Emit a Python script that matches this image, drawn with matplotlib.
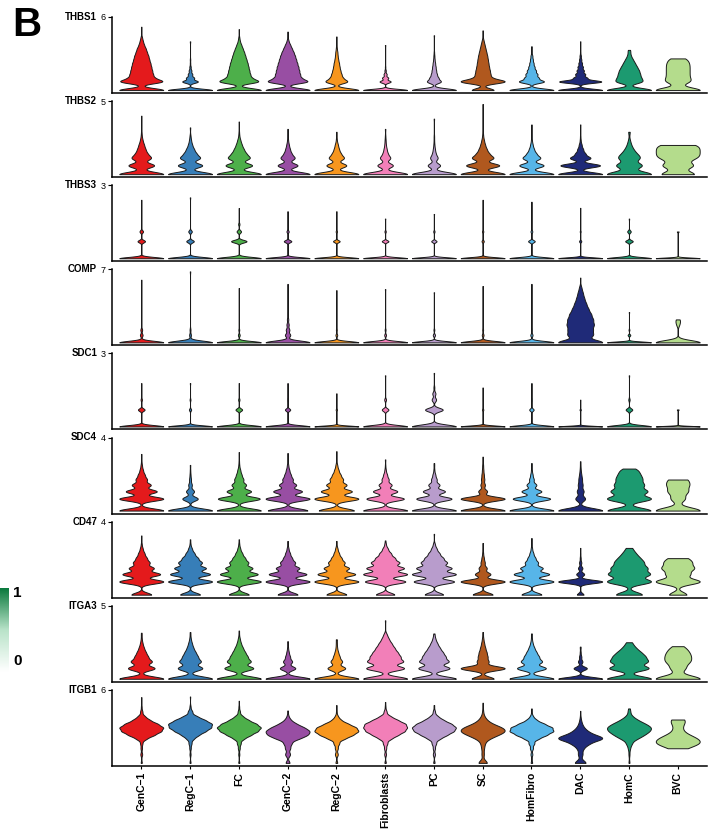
import numpy as np
import matplotlib
matplotlib.use("Agg")
import matplotlib.pyplot as plt
from matplotlib import cbook
from matplotlib.colors import LinearSegmentedColormap

plt.rcParams['font.family'] = ['Liberation Sans', 'DejaVu Sans']

# Data
cell_types = ["GenC\u22121", "RegC\u22121", "FC", "GenC\u22122", "RegC\u22122", "Fibroblasts",
              "PC", "SC", "HomFibro", "DAC", "HomC", "BVC"]
cell_colors = ["#E41A1C", "#377EB8", "#4DAF4A", "#984EA3", "#F7961E", "#F27FB8",
               "#B89CCC", "#B0581E", "#57B5E8", "#1F2A78", "#1C9A70", "#B4DC8C"]
genes = ["THBS1", "THBS2", "THBS3", "COMP", "SDC1", "SDC4", "CD47", "ITGA3", "ITGB1"]
y_max = [6, 5, 3, 7, 3, 4, 4, 5, 6]

# expression levels per gene, cells per level for each cell type, and the highest cell
thbs1_levels = [0, 0.7, 1.0, 1.3, 1.6, 1.9, 2.2, 2.5, 2.8, 3.1, 3.4, 3.7, 4.0, 4.3]
thbs1_counts = [[100, 87, 46, 41, 38, 35, 32, 28, 25, 20, 16, 10, 6, 3],
                [100, 35, 18, 10, 6, 3, 1, 1, 0, 0, 0, 0, 0, 0],
                [100, 80, 45, 40, 37, 34, 31, 27, 23, 19, 14, 9, 4, 2],
                [100, 82, 49, 45, 42, 39, 35, 31, 27, 22, 16, 10, 4, 1],
                [100, 46, 24, 19, 15, 12, 10, 7, 5, 4, 2, 1, 0, 0],
                [100, 25, 14, 7, 3, 1, 0, 0, 0, 0, 0, 0, 0, 0],
                [100, 30, 18, 12, 9, 7, 5, 3, 2, 1, 0, 0, 0, 0],
                [50, 95, 30, 27, 25, 22, 20, 18, 16, 13, 10, 7, 4, 1],
                [100, 55, 30, 25, 19, 13, 9, 6, 4, 1, 0, 0, 0, 0],
                [100, 95, 30, 22, 16, 12, 8, 5, 3, 1, 0, 0, 0, 0],
                [30, 15, 12, 11, 10, 8, 6, 4, 2, 1, 0, 0, 0, 0],
                [10, 4, 3, 3, 3, 3, 3, 2, 0, 0, 0, 0, 0, 0]]
thbs1_tops = [5.2, 4.0, 5.0, 4.8, 4.4, 3.7, 4.5, 4.9, 3.6, 4.0, 3.3, 2.6]

thbs2_levels = [0, 0.6, 1.1, 1.4, 1.7, 2.0, 2.3, 2.6, 2.9]
thbs2_counts = [[100, 58, 40, 22, 15, 10, 5, 2, 1],
                [100, 55, 42, 24, 15, 8, 4, 2, 0],
                [100, 60, 45, 27, 18, 11, 6, 2, 1],
                [100, 45, 30, 15, 9, 5, 2, 1, 0],
                [100, 45, 32, 17, 10, 6, 2, 1, 0],
                [100, 35, 22, 10, 6, 3, 2, 1, 0],
                [100, 28, 16, 7, 4, 2, 1, 1, 0],
                [100, 75, 45, 24, 15, 9, 5, 2, 1],
                [100, 55, 38, 19, 10, 5, 2, 1, 0],
                [100, 90, 45, 21, 12, 6, 2, 1, 0],
                [30, 17, 12, 7, 4, 2, 1, 0, 0],
                [10, 9, 8, 8, 8, 7, 0, 0, 0]]
thbs2_tops = [4.0, 3.2, 3.6, 3.1, 2.9, 3.1, 3.8, 4.8, 3.4, 3.4, 2.9, 2.0]

thbs3_levels = [0, 0.7, 1.1, 1.4]
thbs3_counts = [[100, 17, 8, 0],
                [100, 17, 8, 0],
                [100, 35, 10, 3],
                [100, 17, 5, 0],
                [100, 15, 3, 0],
                [100, 15, 3, 0],
                [100, 12, 3, 0],
                [100, 5, 3, 0],
                [100, 15, 4, 0],
                [100, 5, 2, 0],
                [100, 17, 8, 0],
                [100, 0, 3, 0]]
thbs3_tops = [2.4, 2.5, 2.06, 1.93, 1.93, 1.63, 1.82, 2.4, 2.32, 2.07, 1.63, 1.1]

comp_levels = [0, 0.7, 1.2, 1.7, 2.2, 2.7, 3.2, 3.7, 4.2, 4.7, 5.2]
comp_counts = [[100, 6, 4, 0, 0, 0, 0, 0, 0, 0, 0],
               [100, 4, 2, 0, 0, 0, 0, 0, 0, 0, 0],
               [100, 4, 2, 0, 0, 0, 0, 0, 0, 0, 0],
               [100, 12, 8, 5, 3, 1, 0, 0, 0, 0, 0],
               [100, 4, 2, 0, 0, 0, 0, 0, 0, 0, 0],
               [100, 4, 2, 0, 0, 0, 0, 0, 0, 0, 0],
               [100, 5, 2, 0, 0, 0, 0, 0, 0, 0, 0],
               [100, 4, 2, 0, 0, 0, 0, 0, 0, 0, 0],
               [100, 5, 2, 0, 0, 0, 0, 0, 0, 0, 0],
               [100, 50, 45, 50, 47, 40, 30, 22, 15, 10, 5],
               [100, 6, 2, 0, 0, 0, 0, 0, 0, 0, 0],
               [20, 0, 0, 1, 1, 0, 0, 0, 0, 0, 0]]
comp_tops = [6.0, 6.8, 5.2, 5.6, 5.0, 5.1, 4.8, 5.4, 5.6, 6.2, 2.9, 2.0]

sdc1_levels = [0, 0.69, 1.1, 1.35, 1.6]
sdc1_counts = [[100, 15, 3, 0, 0],
               [100, 5, 2, 0, 0],
               [100, 15, 3, 0, 0],
               [100, 12, 2, 0, 0],
               [100, 3, 1, 0, 0],
               [100, 15, 4, 0, 0],
               [100, 40, 10, 7, 2],
               [100, 3, 1, 0, 0],
               [100, 10, 2, 0, 0],
               [100, 3, 0, 0, 0],
               [100, 15, 3, 0, 0],
               [100, 3, 0, 0, 0]]
sdc1_tops = [1.78, 1.78, 1.78, 1.78, 1.36, 2.1, 2.2, 1.6, 1.78, 1.1, 2.1, 0.7]

sdc4_levels = [0, 0.65, 1.05, 1.4, 1.7, 1.95, 2.2, 2.45, 2.7]
sdc4_counts = [[100, 100, 70, 42, 24, 14, 7, 3, 1],
               [100, 35, 18, 8, 4, 2, 1, 0, 0],
               [100, 95, 55, 32, 19, 11, 6, 2, 1],
               [90, 100, 65, 38, 22, 13, 7, 3, 1],
               [80, 100, 70, 45, 28, 17, 9, 4, 1],
               [100, 85, 55, 29, 15, 8, 3, 1, 0],
               [100, 80, 50, 25, 12, 6, 2, 1, 0],
               [100, 100, 20, 10, 7, 5, 3, 2, 1],
               [100, 85, 45, 22, 10, 5, 2, 1, 0],
               [100, 22, 15, 10, 7, 4, 2, 1, 0],
               [30, 30, 24, 18, 14, 11, 9, 0, 0],
               [20, 6, 8, 8, 6, 0, 0, 0, 0]]
sdc4_tops = [3.1, 2.5, 3.2, 3.15, 3.25, 2.8, 2.6, 2.95, 2.6, 2.7, 2.3, 1.7]

cd47_levels = [0, 0.72, 1.12, 1.45, 1.75, 2.0, 2.25, 2.5, 2.75]
cd47_counts = [[45, 100, 85, 55, 35, 22, 13, 6, 2],
               [45, 100, 90, 70, 50, 32, 18, 8, 2],
               [45, 100, 85, 60, 40, 25, 14, 6, 2],
               [45, 100, 85, 52, 32, 18, 10, 4, 1],
               [45, 100, 85, 56, 35, 21, 11, 5, 1],
               [40, 88, 95, 80, 58, 38, 23, 11, 3],
               [40, 88, 95, 75, 53, 36, 22, 11, 4],
               [45, 100, 35, 18, 9, 5, 2, 1, 0],
               [45, 100, 80, 50, 28, 16, 8, 3, 1],
               [15, 100, 18, 10, 5, 2, 1, 0, 0],
               [18, 30, 27, 22, 16, 11, 7, 3, 0],
               [8, 20, 10, 13, 10, 6, 0, 0, 0]]
cd47_tops = [3.24, 3.03, 3.03, 2.94, 2.94, 2.97, 3.33, 2.83, 3.1, 2.56, 2.56, 2.0]

itga3_levels = [0, 0.72, 1.17, 1.5, 1.8, 2.1, 2.4, 2.7, 3.0]
itga3_counts = [[100, 60, 45, 26, 17, 10, 5, 2, 1],
                [100, 55, 45, 29, 20, 12, 7, 3, 1],
                [100, 65, 50, 33, 23, 15, 8, 4, 1],
                [100, 35, 20, 10, 5, 2, 1, 0, 0],
                [100, 40, 25, 13, 7, 3, 2, 1, 0],
                [100, 85, 75, 57, 45, 34, 24, 14, 7],
                [100, 70, 62, 44, 33, 22, 13, 6, 2],
                [50, 100, 25, 19, 15, 10, 6, 3, 1],
                [100, 65, 45, 29, 19, 11, 5, 2, 1],
                [100, 30, 10, 5, 2, 1, 0, 0, 0],
                [30, 26, 22, 17, 12, 7, 3, 0, 0],
                [20, 6, 8, 7, 6, 4, 0, 0, 0]]
itga3_tops = [3.15, 3.2, 3.3, 2.57, 2.7, 4.0, 3.1, 3.2, 3.1, 2.2, 2.5, 2.23]

itgb1_levels = [0, 0.7, 1.2, 1.6, 2.0, 2.3, 2.6, 2.9, 3.2, 3.5, 3.8, 4.2, 4.6]
itgb1_counts = [[3, 5, 4, 6, 25, 60, 90, 100, 75, 40, 18, 6, 2],
                [3, 3, 4, 8, 18, 40, 70, 95, 100, 70, 35, 12, 3],
                [3, 3, 5, 10, 25, 55, 85, 100, 80, 45, 20, 6, 2],
                [12, 15, 15, 22, 55, 90, 100, 75, 40, 15, 5, 1, 0],
                [5, 8, 8, 15, 40, 75, 100, 90, 55, 22, 8, 2, 0],
                [4, 5, 6, 12, 30, 60, 90, 100, 95, 60, 28, 8, 2],
                [4, 6, 6, 12, 30, 60, 90, 100, 80, 45, 20, 6, 1],
                [30, 8, 8, 12, 30, 65, 100, 85, 40, 18, 8, 3, 1],
                [4, 5, 8, 15, 35, 70, 100, 95, 60, 25, 8, 2, 0],
                [30, 12, 15, 40, 100, 45, 25, 12, 6, 3, 1, 0, 0],
                [1, 1, 2, 5, 12, 20, 27, 30, 22, 12, 5, 2, 0],
                [0, 0, 2, 8, 6, 2, 1, 1, 1, 2, 0, 0, 0]]
itgb1_tops = [5.4, 5.45, 5.1, 4.3, 4.75, 5.0, 4.75, 4.94, 4.47, 4.27, 4.47, 3.56]

gene_levels = [thbs1_levels, thbs2_levels, thbs3_levels, comp_levels, sdc1_levels,
               sdc4_levels, cd47_levels, itga3_levels, itgb1_levels]
gene_counts = [thbs1_counts, thbs2_counts, thbs3_counts, comp_counts, sdc1_counts,
               sdc4_counts, cd47_counts, itga3_counts, itgb1_counts]
gene_tops = [thbs1_tops, thbs2_tops, thbs3_tops, comp_tops, sdc1_tops,
             sdc4_tops, cd47_tops, itga3_tops, itgb1_tops]
bw_adjust = [0.48, 0.65, 0.35, 0.6, 0.45, 0.56, 0.58, 0.62, 0.8]


def kde_for(adjust):
    # gaussian kernel, bandwidth follows each violin's own spread (like Scott's rule)
    def kde(x, coords):
        bw = adjust * x.std(ddof=1) * len(x) ** -0.2
        z = (coords[:, None] - x[None, :]) / bw
        return np.exp(-0.5 * z ** 2).sum(axis=1)
    return kde


# Plot
W, H = 711, 832
fig = plt.figure(figsize=(W / 100, H / 100), dpi=100)
positions = np.arange(1, len(cell_types) + 1)

for i, gene in enumerate(genes):
    top_px = 17 + 84.1 * i
    ax = fig.add_axes([112 / W, 1 - (top_px + 76) / H, 595 / W, 76 / H])
    samples = [np.repeat(np.array(gene_levels[i] + [top], dtype=float), counts + [1])
               for counts, top in zip(gene_counts[i], gene_tops[i])]
    stats = cbook.violin_stats(samples, kde_for(bw_adjust[i]), points=500)
    parts = ax.violin(stats, positions=positions, widths=0.9, showextrema=False)
    for body, col in zip(parts['bodies'], cell_colors):
        body.set_facecolor(col)
        body.set_edgecolor('#1a1a1a')
        body.set_linewidth(0.7)
        body.set_alpha(1)

    ax.set_xlim(0.4, 12.6)
    ax.set_ylim(-0.04 * y_max[i], y_max[i])
    for side in ['top', 'right']:
        ax.spines[side].set_visible(False)
    for side in ['left', 'bottom']:
        ax.spines[side].set_linewidth(1.1)
    ax.set_yticks([y_max[i]])
    ax.set_yticklabels([str(y_max[i])])
    ax.tick_params(axis='y', length=3, width=0.8, labelsize=6.5, pad=1.5)
    ax.text(-0.025, 1.0, gene, transform=ax.transAxes, ha='right', va='center',
            fontsize=7, fontweight='bold')
    ax.set_xticks(positions)
    if i == len(genes) - 1:
        ax.set_xticklabels(cell_types, rotation=90, fontsize=7.5, fontweight='bold')
        ax.tick_params(axis='x', length=2.5, width=0.8, pad=2)
    else:
        ax.set_xticklabels([])
        ax.tick_params(axis='x', length=0)

# Colour scale on the left edge
cmap = LinearSegmentedColormap.from_list("grn", ["#ffffff", "#b9e3c9", "#0b7a3e"])
cax = fig.add_axes([0 / W, 1 - 672 / H, 9 / W, 84 / H])
cax.imshow(np.linspace(1, 0, 100)[:, None], aspect='auto', cmap=cmap)
cax.axis('off')
fig.text(13 / W, 1 - 593 / H, "1", fontsize=11, fontweight='bold', va='center', ha='left')
fig.text(13 / W, 1 - 661 / H, "0", fontsize=11, fontweight='bold', va='center', ha='left')

fig.text(12 / W, 1 - 6 / H, "B", fontsize=29, fontweight='bold', va='top', ha='left')

fig.savefig("out.png", dpi=100)
